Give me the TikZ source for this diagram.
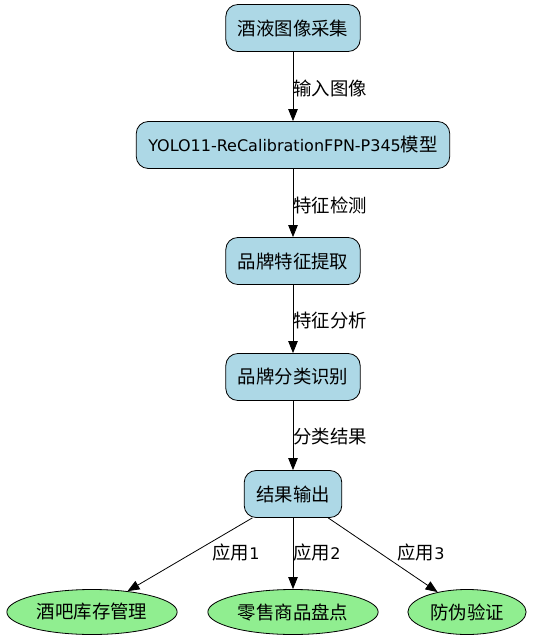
\documentclass[tikz,border=0pt]{standalone}
\usepackage{fontspec}
\setmainfont{DejaVu Sans}
\newfontfamily\cjk[Scale=1.15]{Noto Sans CJK SC}
\usetikzlibrary{
    arrows.meta,
    shapes.geometric
}
\definecolor{box blue}{HTML}{ADD8E6}
\definecolor{leaf green}{HTML}{90EE90}
\tikzset{
    % Nodes
    step box/.style={draw=black,fill=box blue,rounded corners=12bp,line width=0.8bp,
        minimum height=47bp,inner xsep=12bp},
    leaf/.style={ellipse,draw=black,fill=leaf green,line width=0.8bp,
        minimum height=45bp,inner xsep=5bp},
    %
    % Arrows
    arrow tip/.tip={Triangle[length=12bp,width=9.5bp]},
    arr/.style={-{arrow tip},line width=0.8bp},
    edge label/.style={anchor=west,inner sep=0pt},
}
\tikzstyle{every node}=[font=\fontsize{16bp}{18bp}\selectfont]

\begin{document}
\begin{tikzpicture}[x=1bp,y=-1bp]
        \useasboundingbox (0,0) rectangle (537,642);
        % main chain
        \node[step box] (collect) at (293,28) {\cjk 酒液图像采集};
        \node[step box] (model) at (293,145) {YOLO11-ReCalibrationFPN-P345{\cjk 模型}};
        \node[step box] (extract) at (293,261) {\cjk 品牌特征提取};
        \node[step box] (classify) at (293,377) {\cjk 品牌分类识别};
        \node[step box] (output) at (293,494) {\cjk 结果输出};
        % applications
        \node[leaf] (bar) at (92,612) {\cjk 酒吧库存管理};
        \node[leaf] (retail) at (293,612) {\cjk 零售商品盘点};
        \node[leaf] (fake) at (467,612) {\cjk 防伪验证};
        %
        \draw[arr] (collect) -- (model);
        \draw[arr] (model) -- (extract);
        \draw[arr] (extract) -- (classify);
        \draw[arr] (classify) -- (output);
        \draw[arr] (output) -- (bar);
        \draw[arr] (output) -- (retail);
        \draw[arr] (output) -- (fake);
        %
        \node[edge label] (l1) at (293,88) {\cjk 输入图像};
        \node[edge label] (l2) at (293,205) {\cjk 特征检测};
        \node[edge label] (l3) at (293,321) {\cjk 特征分析};
        \node[edge label] (l4) at (293,437) {\cjk 分类结果};
        \node (l5) at (236,552) {{\cjk 应用}1};
        \node (l6) at (317,552) {{\cjk 应用}2};
        \node (l7) at (421,552) {{\cjk 应用}3};
    \end{tikzpicture}
\end{document}
